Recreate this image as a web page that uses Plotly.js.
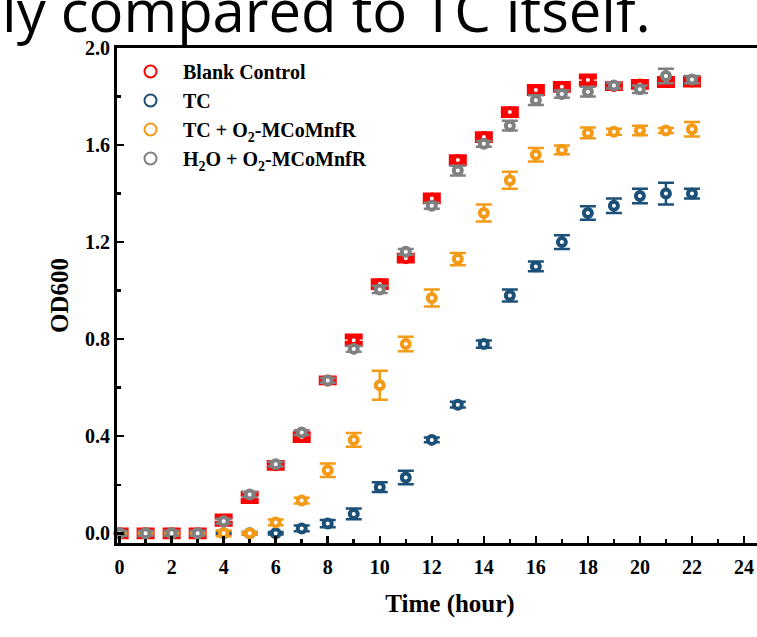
<!DOCTYPE html>
<html>
<head>
<meta charset="utf-8">
<script src="https://cdn.plot.ly/plotly-3.0.1.min.js"></script>
<style>
html,body{margin:0;padding:0;overflow:hidden;background:#fff;}
#chart{width:800px;height:637px;}
</style>
</head>
<body>
<div id="chart"></div>
<script>
var time = [0,1,2,3,4,5,6,7,8,9,10,11,12,13,14,15,16,17,18,19,20,21,22];

var blankVals = [0,0,0,0,0.054,0.148,0.28,0.396,0.63,0.796,1.027,1.134,1.38,1.538,1.633,1.736,1.827,1.84,1.868,1.843,1.85,1.86,1.862];
var blankErr  = [0.012,0.012,0.012,0.012,0.015,0.015,0.01,0.012,0.008,0.015,0.012,0.01,0.012,0.012,0.012,0.012,0.012,0.012,0.015,0.008,0.01,0.012,0.012];

var tcVals = [0,0,0,0,0,0,0,0.02,0.04,0.08,0.19,0.23,0.385,0.53,0.78,0.98,1.10,1.20,1.32,1.35,1.39,1.40,1.40];
var tcErr  = [0.005,0.005,0.005,0.005,0.005,0.005,0.005,0.012,0.015,0.022,0.02,0.028,0.01,0.012,0.015,0.025,0.02,0.028,0.028,0.03,0.03,0.045,0.02];

var tcO2Vals = [0,0,0,0,0,0,0.045,0.135,0.26,0.385,0.61,0.78,0.97,1.13,1.32,1.455,1.56,1.58,1.65,1.655,1.66,1.66,1.665];
var tcO2Err  = [0.005,0.005,0.005,0.005,0.012,0.005,0.012,0.012,0.028,0.028,0.06,0.03,0.035,0.025,0.035,0.035,0.028,0.018,0.022,0.012,0.02,0.01,0.03];

var h2oVals = [0,0,0,0,0.05,0.16,0.285,0.415,0.63,0.76,1.005,1.16,1.35,1.495,1.605,1.68,1.785,1.81,1.82,1.845,1.83,1.885,1.87];
var h2oErr  = [0.01,0.01,0.01,0.01,0.01,0.01,0.01,0.01,0.01,0.012,0.015,0.012,0.012,0.02,0.012,0.02,0.02,0.015,0.02,0.012,0.015,0.03,0.015];

var seriesNames = ['Blank Control','TC','TC + O<sub>2</sub>-MCoMnfR','H<sub>2</sub>O + O<sub>2</sub>-MCoMnfR'];
var seriesColors = ['#ff0000','#1b5078','#f39a16','#808080'];

var xTickVals = [0,2,4,6,8,10,12,14,16,18,20,22,24];
var yTickVals = [0,0.4,0.8,1.2,1.6,2.0];
var yTickText = ['0.0','0.4','0.8','1.2','1.6','2.0'];

var serif = 'Liberation Serif, Times New Roman, serif';

function mk(i, vals, errs, thick, w){
  return {
    type:'scatter', mode:'markers', x: time, y: vals, name: seriesNames[i],
    cliponaxis:false,
    marker:{symbol:'circle', size:8, color:'#ffffff', line:{color:seriesColors[i], width:4}},
    error_y:{type:'data', array: errs, visible:true, color:seriesColors[i], thickness:thick, width:w}
  };
}

var traces = [
  mk(0, blankVals, blankErr, 6, 9),
  mk(1, tcVals, tcErr, 2.5, 8),
  mk(2, tcO2Vals, tcO2Err, 2.5, 8),
  mk(3, h2oVals, h2oErr, 2.5, 8)
];

var L = 117, W = 666, T = 48, H = 495;

var layout = {
  width: 800, height: 637,
  margin:{l:L, r:800-L-W, t:T, b:637-T-H, pad:0},
  paper_bgcolor:'#fff', plot_bgcolor:'#fff',
  showlegend:true,
  legend:{x:(118-L)/W, y:1-(52-T)/H, xanchor:'left', yanchor:'top', bgcolor:'rgba(0,0,0,0)',
          font:{family:serif, size:20, color:'#000', weight:'bold'}, tracegroupgap:0,
          itemsizing:'constant', itemwidth:55},
  xaxis:{
    range:[-0.1,25.5], tickmode:'array', tickvals:xTickVals, ticks:'inside', ticklen:7, tickwidth:2.5, tickcolor:'#000',
    minor:{dtick:1, ticks:'inside', ticklen:4, tickwidth:2.5, tickcolor:'#000'},
    showline:true, linecolor:'#000', linewidth:3, mirror:true, showgrid:false, zeroline:false,
    ticklabelstandoff:4,
    tickfont:{family:serif, size:20, color:'#000', weight:'bold'},
    title:{text:'Time (hour)', font:{family:serif, size:25, color:'#000', weight:'bold'}, standoff:18}
  },
  yaxis:{
    range:[-0.04,2.0], tickmode:'array', tickvals:yTickVals, ticktext:yTickText, ticks:'inside', ticklen:7, tickwidth:2.5, tickcolor:'#000',
    minor:{dtick:0.2, ticks:'inside', ticklen:4, tickwidth:2.5, tickcolor:'#000'},
    showline:true, linecolor:'#000', linewidth:3, mirror:true, showgrid:false, zeroline:false,
    tickfont:{family:serif, size:20, color:'#000', weight:'bold'},
    title:{text:'OD600', font:{family:serif, size:25, color:'#000', weight:'bold'}, standoff:10}
  },
  annotations:[{
    xref:'paper', yref:'paper', x:(0-L)/W, y:1+(T-10)/H, xanchor:'left', yanchor:'middle',
    text:'ly compared to TC itself.', showarrow:false,
    font:{family:'Open Sans, Liberation Sans, sans-serif', size:58, color:'#000'}
  }]
};

Plotly.newPlot('chart', traces, layout, {displayModeBar:false, staticPlot:true});
</script>
</body>
</html>
